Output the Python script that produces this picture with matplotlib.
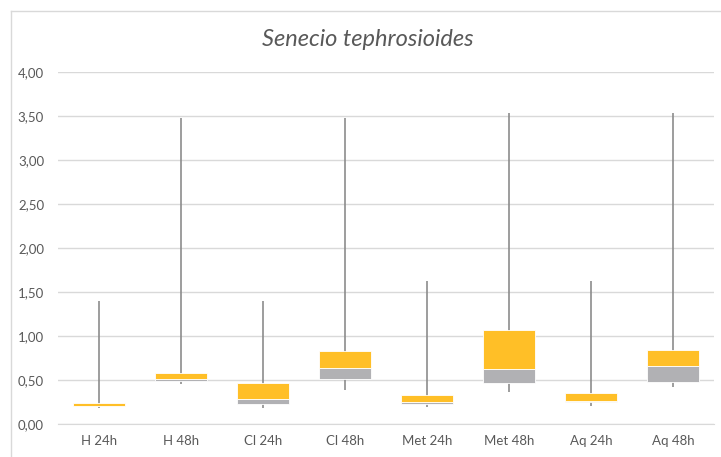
import matplotlib
matplotlib.use("Agg")
import matplotlib.pyplot as plt
from matplotlib.ticker import FuncFormatter, MultipleLocator
from matplotlib.lines import Line2D
import numpy as np

categories = ["H 24h", "H 48h", "Cl 24h", "Cl 48h", "Met 24h", "Met 48h", "Aq 24h", "Aq 48h"]
mins = [0.19, 0.458, 0.19, 0.386, 0.20, 0.37, 0.208, 0.427]
q1 = [0.205, 0.495, 0.234, 0.515, 0.234, 0.466, 0.253, 0.484]
medians = [0.212, 0.511, 0.284, 0.636, 0.253, 0.625, 0.265, 0.666]
q3 = [0.242, 0.586, 0.469, 0.833, 0.33, 1.068, 0.356, 0.844]
maxs = [1.405, 3.48, 1.405, 3.48, 1.63, 3.54, 1.63, 3.54]

plt.rcParams['font.family'] = ['Lato', 'DejaVu Sans']

fig = plt.figure(figsize=(7.21, 4.57), dpi=100)
ax = fig.add_axes([58 / 721, 0.0716, 656 / 721, 0.7704])

x = np.arange(len(categories))
q1 = np.array(q1)
medians = np.array(medians)
q3 = np.array(q3)

# whiskers behind the boxes
ax.vlines(x, mins, maxs, color="#8c8c8c", linewidth=1.2, zorder=2)

ax.bar(x, medians - q1, bottom=q1, width=0.63, color="#b1b1b4",
       edgecolor="white", linewidth=0.6, zorder=3)
ax.bar(x, q3 - medians, bottom=medians, width=0.63, color="#ffbf27",
       edgecolor="white", linewidth=0.6, zorder=3)

ax.set_xlim(-0.5, len(categories) - 0.5)
ax.set_ylim(0, 4)
ax.yaxis.set_major_locator(MultipleLocator(0.5))
ax.yaxis.set_major_formatter(FuncFormatter(lambda v, p: f"{v:.2f}".replace(".", ",")))
ax.set_xticks(x)
ax.set_xticklabels(categories)

ax.grid(axis="y", color="#d9d9d9", linewidth=1, zorder=0)
ax.set_axisbelow(True)
for s in ax.spines.values():
    s.set_visible(False)
ax.spines["bottom"].set_visible(True)
ax.spines["bottom"].set_color("#d9d9d9")
ax.tick_params(axis="both", length=0, colors="#595959", labelsize=9.5)
ax.tick_params(axis="y", pad=10)
ax.tick_params(axis="x", pad=8)

fig.text(368 / 721, 1 - 40 / 457, "Senecio tephrosioides", ha="center", va="center",
         fontsize=17, style="italic", color="#595959")

# chart area border (left and top edges visible)
bx, by = 10.5 / 721, 1 - 11 / 457
fig.add_artist(Line2D([bx, bx], [0, by], transform=fig.transFigure, color="#d9d9d9", linewidth=1))
fig.add_artist(Line2D([bx, 1], [by, by], transform=fig.transFigure, color="#d9d9d9", linewidth=1))

fig.savefig("out.png", dpi=100)
